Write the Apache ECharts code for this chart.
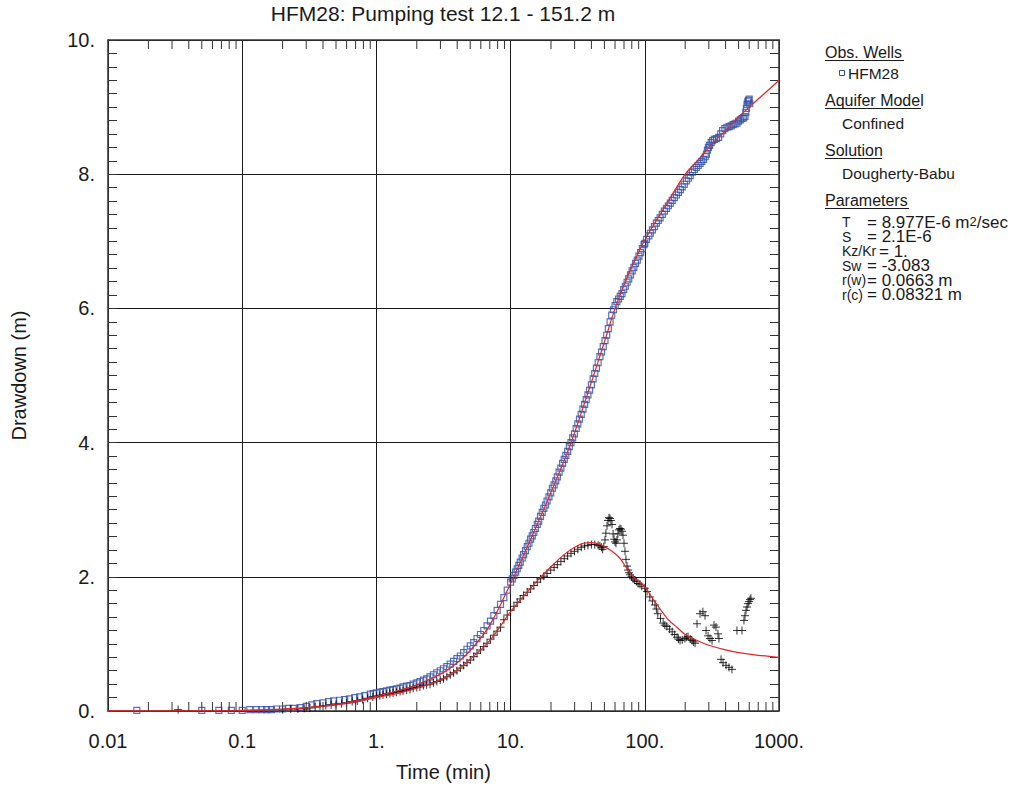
<!DOCTYPE html>
<html><head><meta charset="utf-8">
<script src="https://cdn.jsdelivr.net/npm/echarts@6/dist/echarts.min.js"></script>
<style>html,body{margin:0;padding:0;background:#fff}#c{width:1024px;height:787px}</style>
</head><body><div id="c"></div>
<script>
// ---------- DATA ----------
const titleText = 'HFM28: Pumping test 12.1 - 151.2 m';
const xTickLabels = ['0.01', '0.1', '1.', '10.', '100.', '1000.'];
const xMinorTicks = [0.02,0.03,0.04,0.05,0.06,0.07,0.08,0.09,
  0.2,0.3,0.4,0.5,0.6,0.7,0.8,0.9, 2,3,4,5,6,7,8,9,
  20,30,40,50,60,70,80,90, 200,300,400,500,600,700,800,900];

// Observed drawdown HFM28 [time min, drawdown m]
const obsEarly = [[0.0164,0.01],[0.05,0.01],[0.067,0.01],[0.083,0.01],[0.1,0.01],[0.114,0.02],[0.127,0.02],
  [0.14,0.02],[0.152,0.02],[0.165,0.02],[0.18,0.03],[0.2,0.03],[0.22,0.04],[0.24,0.04],[0.27,0.05],[0.3,0.07],
  [0.33,0.09],[0.36,0.11],[0.4,0.12],[0.44,0.14],[0.48,0.15],[0.53,0.16],[0.58,0.17],[0.63,0.18],[0.69,0.2],
  [0.75,0.21],[0.82,0.23],[0.9,0.25],[0.95,0.26]];
const obsMid1 = [[1,0.27],[1.06,0.28],[1.12,0.29],[1.19,0.3],[1.26,0.31],[1.33,0.32],[1.41,0.33],[1.5,0.34],
  [1.58,0.36],[1.68,0.37],[1.78,0.38],[1.88,0.4],[2,0.42],[2.11,0.44],[2.24,0.46],[2.37,0.48],[2.51,0.51],
  [2.66,0.54],[2.82,0.57],[2.99,0.6],[3.16,0.63],[3.35,0.66],[3.55,0.7],[3.76,0.74],[3.98,0.78],[4.22,0.82],
  [4.47,0.87],[4.73,0.92],[5.01,0.97],[5.31,1.02],[5.62,1.08],[5.96,1.14],[6.31,1.2],[6.68,1.27],[7.08,1.34],
  [7.5,1.42],[7.94,1.5],[8.41,1.59],[8.91,1.69],[9.44,1.8]];
const obsMid2 = [[10,1.92],[10.3,1.97],[10.6,2.02],[10.9,2.07],[11.2,2.12],[11.5,2.17],[11.8,2.22],[12.2,2.28],
  [12.5,2.33],[12.9,2.39],[13.3,2.45],[13.7,2.5],[14.1,2.56],[14.5,2.61],[14.9,2.66],[15.3,2.72],[15.8,2.78],
  [16.2,2.83],[16.7,2.9],[17.2,2.96],[17.7,3.02],[18.2,3.07],[18.7,3.13],[19.3,3.19],[19.9,3.25],[20.5,3.32],
  [21.1,3.37],[21.7,3.43],[22.3,3.49],[23,3.56],[23.7,3.62],[24.4,3.69],[25.1,3.75],[25.8,3.81],[26.6,3.87],
  [27.4,3.94],[28.2,4.0],[29,4.07],[29.9,4.13],[30.8,4.21],[31.7,4.28],[32.6,4.35],[33.6,4.42],[34.6,4.5],
  [35.6,4.57],[36.6,4.64],[37.7,4.71],[38.8,4.78],[40,4.86],[41.2,4.95],[42.4,5.03],[43.6,5.11],[44.9,5.19],
  [46.3,5.28],[47.6,5.35],[49,5.43],[50.5,5.52],[52,5.6],[53.5,5.7],[55.1,5.8],[56.7,5.9],[58.4,5.98],
  [60.1,6.04],[61.9,6.1],[63.7,6.14],[65.6,6.18],[67.6,6.22],[69.6,6.28],[71.6,6.33],[73.8,6.39],[75.9,6.44],
  [78.2,6.5],[80.5,6.56],[82.9,6.61],[85.3,6.67],[87.9,6.72],[90.5,6.78],[93.1,6.83],[95.9,6.89],[98.7,6.95]];
const obsLate = [[100,6.97],[103,7.03],[107,7.08],[110,7.12],[114,7.17],[118,7.22],[122,7.27],[126,7.31],
  [130,7.35],[135,7.4],[140,7.45],[145,7.49],[150,7.53],[155,7.57],[160,7.61],[166,7.65],[172,7.69],[178,7.73],
  [184,7.77],[190,7.81],[197,7.85],[204,7.9],[211,7.94],[218,7.98],[226,8.03],[234,8.07],[242,8.1],[250,8.13],
  [258,8.16],[266,8.19],[274,8.22],[282,8.26],[288,8.3],[293,8.36],[298,8.4],[304,8.43],[312,8.47],[320,8.5],
  [330,8.52],[342,8.53],[355,8.55],[368,8.6],[380,8.65],[395,8.68],[410,8.7],[425,8.71],[440,8.72],[455,8.74],
  [470,8.75],[486,8.76],[500,8.79],[515,8.81],[530,8.83],[545,8.84],[558,8.86],[566,8.92],[572,8.98],
  [578,9.04],[585,9.08],[592,9.1],[600,9.12],[605,9.05]];

// Derivative of drawdown [time min, m]
const derEarly = [[0.0333,0.02],[0.2,0.02],[0.23,0.03],[0.26,0.03],[0.29,0.04],[0.32,0.05],[0.35,0.06],
  [0.38,0.07],[0.42,0.08],[0.46,0.09],[0.5,0.1],[0.55,0.11],[0.6,0.12],[0.66,0.14],[0.72,0.15],[0.79,0.17],
  [0.86,0.19],[0.94,0.21],[1,0.22]];
const derMid1 = [[1.06,0.23],[1.12,0.24],[1.19,0.25],[1.26,0.26],[1.33,0.27],[1.41,0.28],[1.5,0.29],[1.58,0.3],
  [1.68,0.31],[1.78,0.32],[1.88,0.34],[2,0.35],[2.11,0.36],[2.24,0.38],[2.37,0.39],[2.51,0.4],[2.66,0.42],
  [2.82,0.44],[2.99,0.46],[3.16,0.48],[3.35,0.51],[3.55,0.54],[3.76,0.57],[3.98,0.6],[4.22,0.64],[4.47,0.68],
  [4.73,0.72],[5.01,0.76],[5.31,0.81],[5.62,0.86],[5.96,0.91],[6.31,0.96],[6.68,1.01],[7.08,1.07],[7.5,1.13],
  [7.94,1.19],[8.41,1.25],[8.91,1.36],[9.44,1.43],[10,1.5]];
const derMid2 = [[10.6,1.56],[11.2,1.62],[11.8,1.67],[12.5,1.72],[13.3,1.77],[14.1,1.82],[14.9,1.87],
  [15.8,1.92],[16.7,1.97],[17.7,2.01],[18.7,2.05],[19.9,2.1],[21.1,2.14],[22.3,2.18],[23.7,2.23],[25.1,2.27],
  [26.6,2.31],[28.2,2.35],[29.9,2.38],[31.7,2.41],[33.6,2.44],[35.6,2.46],[37.7,2.47],[40,2.48],[42.4,2.48],
  [44.9,2.47],[46.3,2.46],[47.6,2.44],[48.5,2.41],[49.5,2.45],[50.5,2.55],[51.3,2.65],[52.3,2.76],[53.2,2.84],
  [54.1,2.88],[55,2.87],[56,2.84],[57,2.78],[58,2.64],[59,2.56],[60,2.52],[61,2.5],[62,2.55],[63,2.64],
  [64.2,2.7],[65.3,2.72],[66.5,2.71],[67.7,2.68],[68.8,2.62],[70,2.5],[71.2,2.38],[72.4,2.26],[73.7,2.16],
  [75,2.1],[76.3,2.06],[77.6,2.03],[79.6,2.0],[81.7,1.97],[84,1.95],[86.5,1.93],[89,1.9],[92,1.89],[95,1.86]];
const derLate = [[100,1.83],[104,1.78],[109,1.7],[114,1.64],[119,1.58],[122,1.52],[125,1.45],[131,1.38],
  [137,1.31],[141,1.28],[146,1.26],[153,1.22],[160,1.18],[167,1.14],[174,1.1],[178,1.07],[183,1.05],[190,1.06],
  [199,1.08],[205,1.1],[210,1.11],[218,1.07],[225,1.05],[231,1.03],[237,1.01],
  [245,1.3],[258,1.45],[271,1.48],[281,1.42],[286,1.2],[296,1.12],[306,1.08],[317,1.05],
  [328,1.28],[339,1.25],[351,1.15],[357,1.08],[370,0.77],[383,0.72],[403,0.68],[424,0.65],[446,0.62],
  [486,1.2],[530,1.2],[548,1.35],[558,1.42],[568,1.5],[578,1.55],[588,1.6],[597,1.63],[608,1.66],[618,1.68]];

// Dougherty-Babu type curve and its derivative
const modelCurve = [[0.01,0],[0.03,0],[0.06,0.005],[0.1,0.01],[0.2,0.03],[0.3,0.05],[0.5,0.1],[0.7,0.15],
  [1,0.22],[1.5,0.31],[2,0.39],[3,0.55],[4,0.72],[5,0.9],[7,1.28],[10,1.9],[15,2.68],[20,3.26],[28,3.98],
  [40,4.9],[50,5.5],[60,6.0],[70,6.35],[80,6.62],[100,7.02],[150,7.6],[200,8.0],[260,8.25],[300,8.4],
  [400,8.65],[500,8.85],[600,9.0],[700,9.12],[850,9.27],[1000,9.4]];
const modelDeriv = [[0.01,0],[0.05,0],[0.1,0.005],[0.2,0.025],[0.3,0.045],[0.5,0.09],[0.7,0.13],[1,0.2],
  [1.5,0.27],[2,0.34],[3,0.46],[4,0.61],[5,0.77],[7,1.05],[10,1.48],[13,1.75],[16,1.95],[20,2.15],[25,2.33],
  [30,2.44],[35,2.5],[40,2.51],[45,2.49],[50,2.45],[57,2.38],[65,2.28],[72,2.15],[80,2.02],[90,1.93],
  [100,1.85],[115,1.67],[130,1.52],[150,1.36],[175,1.24],[200,1.14],[245,1.05],[300,0.98],[400,0.91],
  [500,0.87],[700,0.83],[1000,0.8]];

const legendHeads = ['Obs. Wells', 'Aquifer Model', 'Solution', 'Parameters'];
const legendItems = ['HFM28', 'Confined', 'Dougherty-Babu'];
const paramNames = ['T', 'S', 'Kz/Kr', 'Sw', 'r(w)', 'r(c)'];
const paramValues = ['= 8.977E-6 m', '= 2.1E-6', '= 1.', '= -3.083', '= 0.0663 m', '= 0.08321 m'];
const paramUnitSup = '2';
const paramUnitTail = '/sec';

// ---------- CHART ----------
const FONT = '"Liberation Sans", Arial, sans-serif';
const INK = '#1a1a1a';
const BLUE = '#2f4ea6';
const RED = '#e3262a';
const chart = echarts.init(document.getElementById('c'), null, {renderer: 'svg'});

const heads = [{y: 52, w: 79}, {y: 100, w: 96}, {y: 150, w: 57}, {y: 200, w: 84}];
const graphic = [];
graphic.push({type: 'text', x: 443, y: 3, style: {text: titleText, font: '21px ' + FONT, fill: INK, align: 'center', verticalAlign: 'top'}});
heads.forEach((h, i) => {
  graphic.push({type: 'text', x: 825, y: h.y, style: {text: legendHeads[i], font: '16px ' + FONT, fill: INK, verticalAlign: 'middle'}});
  graphic.push({type: 'line', shape: {x1: 825, y1: h.y + 8.5, x2: 825 + h.w, y2: h.y + 8.5}, style: {stroke: INK, lineWidth: 1}});
});
[73, 123, 173].forEach((y, i) => {
  graphic.push({type: 'text', x: i === 0 ? 848 : 842, y: y, style: {text: legendItems[i], font: '15.5px ' + FONT, fill: INK, verticalAlign: 'middle'}});
});
graphic.push({type: 'rect', shape: {x: 839.5, y: 70.5, width: 5, height: 5}, style: {fill: '#fff', stroke: BLUE, lineWidth: 1}});

// parameters as one rich-text block
const nameWidths = [25, 25, 37, 25, 25, 25];
const paramLines = paramNames.map((n, i) => {
  let s = '{n' + i + '|' + n + '}{v|' + paramValues[i] + '}';
  if (i === 0) s += '{sup|' + paramUnitSup + '}{v|' + paramUnitTail + '}';
  return s;
});
const rich = {v: {fontSize: 17, fontFamily: FONT, color: INK, lineHeight: 14.5},
  sup: {fontSize: 13, fontFamily: FONT, color: INK, lineHeight: 6, verticalAlign: 'top'}};
nameWidths.forEach((w, i) => { rich['n' + i] = {fontSize: 14, fontFamily: FONT, color: INK, lineHeight: 14.5, width: w}; });
graphic.push({type: 'text', x: 842, y: 215, style: {text: paramLines.join('\n'), rich: rich, verticalAlign: 'top', fill: INK}});

const scatterObs = (data) => ({type: 'scatter', data, symbol: 'rect', symbolSize: 6,
  itemStyle: {color: 'rgba(255,255,255,0)', borderColor: BLUE, borderWidth: 1.2}, z: 3, silent: true});
const crossPath = 'path://M0,4L8,4M4,0L4,8';
const scatterDer = (data) => ({type: 'scatter', data, symbol: crossPath, symbolSize: 8,
  itemStyle: {color: 'none', borderColor: '#000', borderWidth: 1}, z: 3, silent: true});

const commonY = {type: 'value', min: 0, max: 10, interval: 2,
  axisLine: {show: true, lineStyle: {color: '#333', width: 1.5}},
  axisTick: {show: true, inside: true, length: 9, lineStyle: {color: '#333'}},
  minorTick: {show: true, splitNumber: 10, length: 9, lineStyle: {color: '#333'}}};

chart.setOption({
  animation: false,
  backgroundColor: '#fff',
  grid: {left: 108, right: 245, top: 40, bottom: 76, containLabel: false},
  graphic: graphic,
  xAxis: [{
    type: 'log', logBase: 10, min: 0.01, max: 1000, position: 'bottom',
    name: 'Time (min)', nameLocation: 'middle', nameGap: 51,
    nameTextStyle: {fontFamily: FONT, fontSize: 20, color: INK},
    axisLine: {show: true, onZero: false, lineStyle: {color: '#333', width: 1.5}},
    axisTick: {show: false},
    axisLabel: {fontFamily: FONT, fontSize: 20, color: INK, margin: 20,
      formatter: v => xTickLabels[Math.round(Math.log10(v)) + 2]},
    splitLine: {show: true, lineStyle: {color: INK, width: 1}}
  }, {
    type: 'log', logBase: 10, min: 0.01, max: 1000, position: 'top',
    axisLine: {show: true, onZero: false, lineStyle: {color: '#333', width: 1.5}},
    axisTick: {show: false}, axisLabel: {show: false}, splitLine: {show: false}
  }],
  yAxis: [Object.assign({}, commonY, {
    position: 'left',
    name: 'Drawdown (m)', nameLocation: 'middle', nameGap: 79, nameRotate: 90,
    nameTextStyle: {fontFamily: FONT, fontSize: 20, color: INK},
    axisLabel: {fontFamily: FONT, fontSize: 20, color: INK, margin: 13, formatter: v => v + '.'},
    splitLine: {show: true, lineStyle: {color: INK, width: 1}}
  }), Object.assign({}, commonY, {
    position: 'right', axisLabel: {show: false}, splitLine: {show: false}
  })],
  series: [
    scatterObs(obsEarly), scatterObs(obsMid1), scatterObs(obsMid2), scatterObs(obsLate),
    scatterDer(derEarly), scatterDer(derMid1), scatterDer(derMid2), scatterDer(derLate),
    {type: 'line', data: modelCurve, smooth: 0.3, showSymbol: false, lineStyle: {color: RED, width: 1.2}, z: 5, silent: true},
    {type: 'line', data: modelDeriv, smooth: 0.3, showSymbol: false, lineStyle: {color: RED, width: 1.2}, z: 5, silent: true},
    {type: 'custom', data: xMinorTicks.map(t => [t, 0]), silent: true, z: 6,
      renderItem: (params, api) => {
        const t = api.value(0);
        const b = api.coord([t, 0]);
        const tp = api.coord([t, 10]);
        return {type: 'group', children: [
          {type: 'line', shape: {x1: b[0], y1: b[1], x2: b[0], y2: b[1] - 9}, style: {stroke: '#333', lineWidth: 1}},
          {type: 'line', shape: {x1: tp[0], y1: tp[1], x2: tp[0], y2: tp[1] + 9}, style: {stroke: '#333', lineWidth: 1}}
        ]};
      }}
  ]
});
</script></body></html>
